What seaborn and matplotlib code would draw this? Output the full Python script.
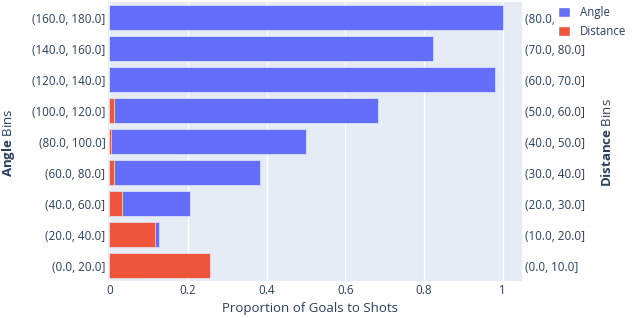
import matplotlib
matplotlib.use("Agg")
import matplotlib.pyplot as plt
import seaborn as sns
import pandas as pd
from matplotlib.patches import Patch

# bins listed top to bottom
angle_bins = ["(160.0, 180.0]", "(140.0, 160.0]", "(120.0, 140.0]", "(100.0, 120.0]",
              "(80.0, 100.0]", "(60.0, 80.0]", "(40.0, 60.0]", "(20.0, 40.0]", "(0.0, 20.0]"]
angle_vals = [1.0, 0.822, 0.98, 0.682, 0.499, 0.384, 0.204, 0.127, 0.09]

distance_bins = ["(80.0, 90.0]", "(70.0, 80.0]", "(60.0, 70.0]", "(50.0, 60.0]",
                 "(40.0, 50.0]", "(30.0, 40.0]", "(20.0, 30.0]", "(10.0, 20.0]", "(0.0, 10.0]"]
distance_vals = [0.0, 0.0, 0.0, 0.011, 0.004, 0.011, 0.033, 0.117, 0.257]

x_ticks = [0, 0.2, 0.4, 0.6, 0.8, 1.0]
x_tick_labels = ["0", "0.2", "0.4", "0.6", "0.8", "1"]

sns.set_style("white")
plt.rcParams["font.family"] = ["Open Sans", "DejaVu Sans"]
plt.rcParams["mathtext.fontset"] = "custom"
plt.rcParams["mathtext.rm"] = "Open Sans"
plt.rcParams["mathtext.bf"] = "Open Sans:bold"

TXT = "#2a3f5f"
BLUE = "#636EFA"
RED = "#EF553B"
BG = "#E5ECF6"

df_angle = pd.DataFrame({"bin": angle_bins, "value": angle_vals})
df_dist = pd.DataFrame({"bin": distance_bins, "value": distance_vals})

fig = plt.figure(figsize=(6.4, 3.18), dpi=100)
ax = fig.add_axes([0.169, 0.116, 0.647, 0.877])
ax.set_facecolor(BG)

sns.barplot(data=df_angle, x="value", y="bin", order=angle_bins, orient="h",
            color=BLUE, saturation=1, width=0.8, edgecolor=BG, linewidth=0.5, ax=ax)

ax2 = ax.twinx()
sns.barplot(data=df_dist, x="value", y="bin", order=distance_bins, orient="h",
            color=RED, saturation=1, width=0.8, edgecolor=BG, linewidth=0.5, ax=ax2)

for a in (ax, ax2):
    a.set_ylim(len(angle_bins) - 0.5, -0.5)
    for s in a.spines.values():
        s.set_visible(False)
    a.tick_params(axis="y", length=0, pad=2, labelsize=8.4, labelcolor=TXT)

ax.set_xlim(-0.003, 1.05)
ax.set_xticks(x_ticks)
ax.set_xticklabels(x_tick_labels)
ax.tick_params(axis="x", length=0, pad=2, labelsize=8.4, labelcolor=TXT)
ax.grid(axis="x", color="white", linewidth=1)
ax.set_axisbelow(True)

ax.set_xlabel("")
ax.set_ylabel("")
ax2.set_ylabel("")
ax2.set_xlabel("")

fig.text(0.485, 0.031, "Proportion of Goals to Shots", ha="center", va="center",
         fontsize=9.5, color=TXT)
fig.text(0.013, 0.55, r"$\bf{Angle}$ Bins", rotation=90, ha="center", va="center",
         fontsize=9.5, color=TXT)
fig.text(0.948, 0.55, r"$\bf{Distance}$ Bins", rotation=90, ha="center", va="center",
         fontsize=9.5, color=TXT)

handles = [Patch(facecolor=BLUE, label="Angle"), Patch(facecolor=RED, label="Distance")]
leg = fig.legend(handles=handles, loc="upper left", bbox_to_anchor=(0.866, 0.995),
                 frameon=True, fontsize=8.3, handlelength=1.0, handleheight=1.0,
                 handletextpad=0.9, labelspacing=0.55, borderpad=0.35, borderaxespad=0)
leg.get_frame().set_facecolor("white")
leg.get_frame().set_edgecolor("white")
leg.get_frame().set_alpha(1)
for t in leg.get_texts():
    t.set_color(TXT)

fig.savefig("out.png", dpi=100)
